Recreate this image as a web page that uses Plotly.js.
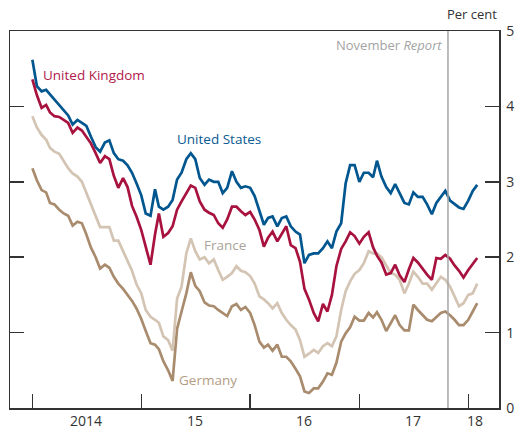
<!DOCTYPE html>
<html>
<head>
<meta charset="utf-8">
<script src="https://cdn.plot.ly/plotly-3.0.1.min.js"></script>
<style>html,body{margin:0;padding:0;background:#fff;}#chart{width:517px;height:430px;}</style>
</head>
<body>
<div id="chart"></div>
<script>
const dates = [
"2014-01-01","2014-01-16","2014-02-01","2014-02-16","2014-03-01","2014-03-16","2014-04-01","2014-04-16","2014-05-01","2014-05-16","2014-06-01","2014-06-16",
"2014-07-01","2014-07-16","2014-08-01","2014-08-16","2014-09-01","2014-09-16","2014-10-01","2014-10-16","2014-11-01","2014-11-16","2014-12-01","2014-12-16",
"2015-01-01","2015-01-16","2015-02-01","2015-02-16","2015-03-01","2015-03-16","2015-04-01","2015-04-16","2015-05-01","2015-05-16","2015-06-01","2015-06-16",
"2015-07-01","2015-07-16","2015-08-01","2015-08-16","2015-09-01","2015-09-16","2015-10-01","2015-10-16","2015-11-01","2015-11-16","2015-12-01","2015-12-16",
"2016-01-01","2016-01-16","2016-02-01","2016-02-16","2016-03-01","2016-03-16","2016-04-01","2016-04-16","2016-05-01","2016-05-16","2016-06-01","2016-06-16",
"2016-07-01","2016-07-16","2016-08-01","2016-08-16","2016-09-01","2016-09-16","2016-10-01","2016-10-16","2016-11-01","2016-11-16","2016-12-01","2016-12-16",
"2017-01-01","2017-01-16","2017-02-01","2017-02-16","2017-03-01","2017-03-16","2017-04-01","2017-04-16","2017-05-01","2017-05-16","2017-06-01","2017-06-16",
"2017-07-01","2017-07-16","2017-08-01","2017-08-16","2017-09-01","2017-09-16","2017-10-01","2017-10-16","2017-11-01","2017-11-16","2017-12-01","2017-12-16",
"2018-01-01","2018-01-16","2018-01-31"
];

const unitedStates = [
4.62,4.27,4.20,4.22,4.16,4.09,4.02,3.96,3.88,3.76,3.82,3.78,
3.74,3.60,3.46,3.40,3.52,3.55,3.38,3.30,3.28,3.22,3.12,2.98,
2.82,2.58,2.55,2.90,2.67,2.63,2.67,2.76,3.03,3.12,3.30,3.38,
3.30,3.05,2.96,3.03,3.00,3.00,2.85,2.92,3.14,3.00,2.92,2.94,
2.92,2.81,2.61,2.43,2.52,2.54,2.41,2.52,2.54,2.41,2.34,2.30,
1.92,2.03,2.05,2.05,2.12,2.21,2.12,2.34,2.45,2.98,3.22,3.22,
3.00,3.12,3.12,3.06,3.28,3.07,2.93,2.85,2.97,2.84,2.72,2.70,
2.86,2.80,2.80,2.70,2.57,2.72,2.80,2.88,2.75,2.70,2.66,2.64,
2.75,2.88,2.96
];

const unitedKingdom = [
4.36,4.15,3.98,4.02,3.92,3.87,3.86,3.82,3.78,3.65,3.72,3.68,
3.60,3.51,3.38,3.25,3.34,3.30,3.08,2.92,3.05,2.93,2.68,2.54,
2.36,2.12,1.90,2.30,2.58,2.27,2.32,2.41,2.63,2.74,2.85,2.95,
2.92,2.74,2.63,2.59,2.56,2.45,2.39,2.50,2.67,2.67,2.61,2.56,
2.60,2.50,2.36,2.14,2.26,2.34,2.21,2.32,2.41,2.16,2.12,1.94,
1.58,1.44,1.26,1.15,1.38,1.28,1.50,1.88,2.11,2.21,2.33,2.28,
2.18,2.27,2.33,2.13,2.02,1.93,1.77,1.79,1.90,1.76,1.67,1.84,
1.99,1.93,1.84,1.77,1.70,1.99,1.98,2.03,1.98,1.89,1.82,1.73,
1.83,1.91,1.99
];

const france = [
3.87,3.72,3.62,3.56,3.45,3.40,3.37,3.28,3.18,3.11,3.07,3.00,
2.85,2.70,2.55,2.40,2.40,2.40,2.22,2.22,2.08,1.95,1.82,1.64,
1.52,1.30,1.21,1.17,1.13,0.95,0.90,0.76,1.45,1.61,2.05,2.25,
2.08,1.97,2.00,1.92,1.97,1.83,1.70,1.74,1.79,1.88,1.82,1.80,
1.75,1.65,1.48,1.44,1.39,1.32,1.39,1.26,1.17,1.10,1.04,0.90,
0.68,0.72,0.77,0.73,0.82,0.86,0.82,0.95,1.30,1.55,1.68,1.78,
1.83,1.92,2.08,2.05,2.05,2.00,1.90,1.79,1.77,1.70,1.52,1.65,
1.81,1.74,1.65,1.65,1.57,1.65,1.74,1.70,1.61,1.48,1.35,1.39,
1.50,1.52,1.65
];

const germany = [
3.18,3.02,2.89,2.86,2.72,2.70,2.63,2.58,2.55,2.42,2.47,2.45,
2.30,2.13,2.00,1.85,1.90,1.86,1.74,1.65,1.58,1.50,1.42,1.32,
1.18,1.02,0.86,0.84,0.78,0.62,0.50,0.36,1.05,1.28,1.52,1.80,
1.62,1.55,1.40,1.36,1.35,1.30,1.26,1.22,1.35,1.38,1.30,1.34,
1.26,1.10,0.88,0.80,0.84,0.76,0.84,0.68,0.68,0.62,0.52,0.42,
0.22,0.20,0.26,0.26,0.35,0.46,0.44,0.60,0.88,0.99,1.07,1.21,
1.16,1.16,1.26,1.20,1.27,1.17,1.02,1.12,1.23,1.10,1.03,1.03,
1.37,1.30,1.23,1.17,1.15,1.21,1.26,1.28,1.23,1.17,1.10,1.10,
1.17,1.28,1.39
];

const yearTicks = ["2014-01-01","2015-01-01","2016-01-01","2017-01-01","2018-01-01"];
const yearLabels = ["2014","15","16","17","18"];
const yearLabelPos = ["2014-07-01","2015-07-01","2016-07-01","2017-07-01","2018-01-24"];
const reportDate = "2017-10-25";

const colors = {uk:"#a8123e", us:"#00568f", fr:"#d3c4b3", de:"#a98b6e"};

function line(y, c, name){
  return {x: dates, y: y, type: "scatter", mode: "lines", name: name,
          line: {color: c, width: 2.7, shape: "linear"}, hoverinfo: "skip"};
}

const traces = [
  line(germany, colors.de, "Germany"),
  line(france, colors.fr, "France"),
  line(unitedStates, colors.us, "United States"),
  line(unitedKingdom, colors.uk, "United Kingdom")
];

const font = "'Open Sans', 'Noto Sans', sans-serif";
const annotations = [];
yearLabels.forEach((t, i) => annotations.push({
  x: yearLabelPos[i], y: -0.032, xref: "x", yref: "paper", text: t, showarrow: false,
  xanchor: "center", yanchor: "middle", borderpad: 0,
  font: {family: font, size: 14, color: "#333"}
}));
annotations.push(
  {x: "2014-01-31", y: 4.42, xref: "x", yref: "y", text: "United Kingdom", showarrow: false,
   xanchor: "left", yanchor: "middle", font: {family: font, size: 13.5, color: "#b01a4c"}},
  {x: "2015-04-24", y: 3.57, xref: "x", yref: "y", text: "United States", showarrow: false,
   xanchor: "left", yanchor: "middle", font: {family: font, size: 13.5, color: "#0a5a93"}},
  {x: "2015-07-24", y: 2.16, xref: "x", yref: "y", text: "France", showarrow: false,
   xanchor: "left", yanchor: "middle", font: {family: font, size: 13.5, color: "#a9a29a"}},
  {x: "2015-05-01", y: 0.37, xref: "x", yref: "y", text: "Germany", showarrow: false,
   xanchor: "left", yanchor: "middle", font: {family: font, size: 13.5, color: "#b39c84"}},
  {x: reportDate, y: 0.963, xref: "x", yref: "paper", text: "November <i>Report</i>", showarrow: false,
   xanchor: "right", yanchor: "middle", xshift: -4, font: {family: font, size: 13, color: "#a3a3a3"}},
  {x: 1, y: 1.045, xref: "paper", yref: "paper", text: "Per cent", showarrow: false,
   xanchor: "right", yanchor: "middle", font: {family: font, size: 13, color: "#333"}}
);

const layout = {
  width: 517, height: 430,
  margin: {l: 10, r: 18, t: 31, b: 22, pad: 0},
  paper_bgcolor: "#ffffff", plot_bgcolor: "#ffffff",
  showlegend: false,
  font: {family: font, size: 14, color: "#333"},
  xaxis: {
    type: "date", range: ["2013-10-18", "2018-04-14"],
    tickmode: "array", tickvals: yearTicks, showticklabels: false,
    ticks: "inside", ticklen: 14, tickwidth: 1.5, tickcolor: "#333",
    showline: true, linecolor: "#333", linewidth: 1.5, mirror: true,
    showgrid: false, zeroline: false, fixedrange: true
  },
  yaxis: {
    range: [0, 5], side: "right",
    tickmode: "array", tickvals: [0, 1, 2, 3, 4, 5],
    ticks: "inside", ticklen: 14, tickwidth: 1.5, tickcolor: "#333",
    ticklabelstandoff: 3,
    tickfont: {family: font, size: 14, color: "#333"},
    showline: true, linecolor: "#333", linewidth: 1.5, mirror: "ticks",
    showgrid: false, zeroline: false, fixedrange: true
  },
  shapes: [{
    type: "line", xref: "x", yref: "paper", x0: reportDate, x1: reportDate, y0: 0, y1: 1,
    line: {color: "#a6a6a6", width: 1.5}
  }],
  annotations: annotations
};

Plotly.newPlot("chart", traces, layout, {displayModeBar: false, staticPlot: true});
</script>
</body>
</html>
